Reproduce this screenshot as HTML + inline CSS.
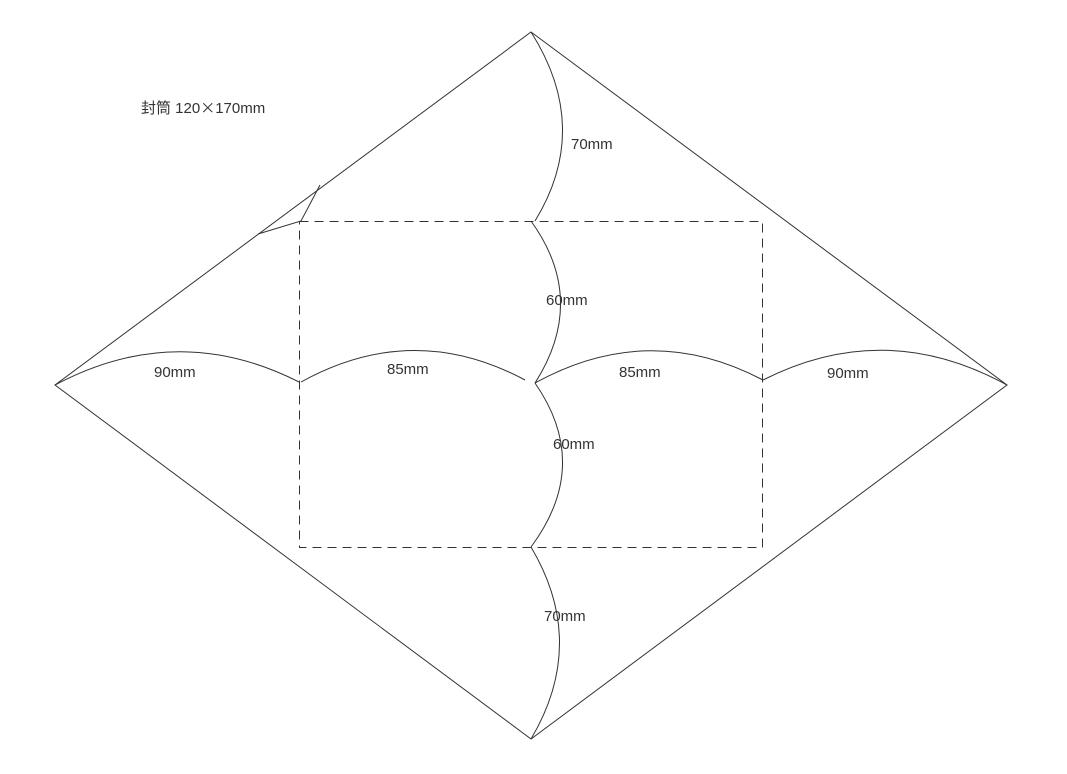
<!DOCTYPE html>
<html><head><meta charset="utf-8"><style>body{margin:0;background:#fff}svg{display:block}text{font-family:"Liberation Sans","Noto Sans CJK SC",sans-serif;font-size:15px;fill:#333}</style></head>
<body>
<svg width="1067" height="774" viewBox="0 0 1067 774">
<g fill="none" stroke="#333" stroke-width="1">
<polygon points="531,32 1007,385 531,739 55,385"/>
<rect x="299.5" y="221.5" width="463" height="326" stroke-dasharray="9,6"/>
<polyline points="258,234 301,221 320,185"/>
<path d="M531,32 Q592,128 535,221"/>
<path d="M531,221 Q588,300 535,383"/>
<path d="M535,383 Q592,465 531,547"/>
<path d="M531,547 Q588,643 531,739"/>
<path d="M55,385 Q177,320 299,382"/>
<path d="M301,382 Q413,320 525,380"/>
<path d="M535,383 Q649,320 763,380"/>
<path d="M763,380 Q885,318 1007,385"/>
</g>
<text x="141" y="113">封筒 120<tspan style="font-family:'Noto Sans CJK SC',sans-serif">×</tspan>170mm</text>
<text x="571" y="149">70mm</text>
<text x="546" y="305">60mm</text>
<text x="553" y="449">60mm</text>
<text x="544" y="621">70mm</text>
<text x="154" y="377">90mm</text>
<text x="387" y="374">85mm</text>
<text x="619" y="377">85mm</text>
<text x="827" y="378">90mm</text>
</svg>
</body></html>
